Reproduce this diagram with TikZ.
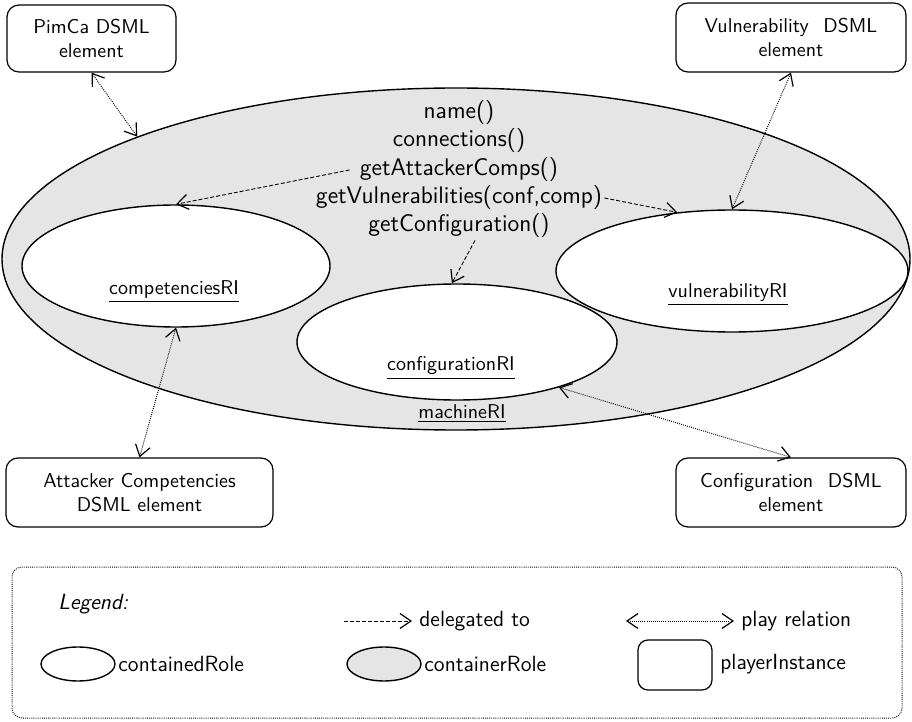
\documentclass[tikz,border=0pt]{standalone}
\usetikzlibrary{shapes.geometric,arrows.meta,calc}
\definecolor{rolegray}{gray}{0.9}
\begin{document}
\begin{tikzpicture}[x=0.5pt,y=-0.5pt, font=\sffamily,
  contained/.style={ellipse, draw, fill=white, line width=0.7pt, inner sep=0pt},
  container/.style={ellipse, draw, fill=rolegray, line width=0.7pt, inner sep=0pt},
  player/.style={draw, rounded corners=6pt, line width=0.6pt, align=center, inner sep=0pt, font=\sffamily\normalsize},
  barb/.tip={Straight Barb[length=5.5pt,width=7.5pt,line width=0.6pt]},
  deleg/.style={dash pattern=on 2pt off 1pt, line width=0.45pt, -barb},
  play/.style={dash pattern=on 0.45pt off 0.6pt, line width=0.5pt, barb-barb},
  meth/.style={font=\sffamily\large, inner sep=1pt},
  rlabel/.style={font=\sffamily\normalsize, inner sep=1pt},
  legtext/.style={font=\sffamily\fontsize{11}{13}\selectfont, anchor=west, inner sep=0pt}
]
\useasboundingbox (0,0) rectangle (912,722);

% roles
\node[container, minimum width=454pt, minimum height=171pt] (machine) at (456,259) {};
\node[contained, minimum width=154pt, minimum height=61pt] (compRI) at (176,266) {};
\node[contained, minimum width=176pt, minimum height=61pt] (vulnRI) at (732,271) {};
\node[contained, minimum width=160pt, minimum height=58pt] (confRI) at (457,342) {};

\node[rlabel] (compL) at (174,292) {\underline{competenciesRI}};
\node[rlabel] (vulnL) at (728,295) {\underline{vulnerabilityRI}};
\node[rlabel] (confL) at (451,368) {\underline{configurationRI}};
\node[rlabel] (machL) at (462,414) {\underline{machineRI}};

% methods
\node[meth] (m1) at (459,113) {name()};
\node[meth] (m2) at (459,141) {connections()};
\node[meth] (m3) at (459,170) {getAttackerComps()};
\node[meth] (m4) at (459,198) {getVulnerabilities(conf,comp)};
\node[meth] (m5) at (459,226) {getConfiguration()};

% players
\node[player, minimum width=84.5pt, minimum height=33.5pt] (pimca) at (91.5,38.5) {PimCa DSML\\element};
\node[player, minimum width=115pt, minimum height=34.5pt] (vuln) at (791,37.5) {Vulnerability\hspace{0.4em} DSML\\element};
\node[player, minimum width=133.5pt, minimum height=34.5pt] (attacker) at (139.5,492.5) {Attacker Competencies\\DSML element};
\node[player, minimum width=115pt, minimum height=34.5pt] (config) at (791,492.5) {Configuration\hspace{0.4em} DSML\\element};

% play relations
\draw[play] (pimca.south) -- (machine.159);
\draw[play] (vuln.south) -- (vulnRI.north);
\draw[play] (compRI.south) -- (attacker.north);
\draw[play] (confRI.-24) -- (config.north);

% delegations
\draw[deleg] ($(m3.west)+(-8,0)$) -- (compRI.north);
\draw[deleg] (m4.east) -- (vulnRI.133);
\draw[deleg] ($(m5.south)+(16,0)$) -- (confRI.95);

% legend
\node[draw, dash pattern=on 0.45pt off 0.6pt, line width=0.5pt, rounded corners=5pt, minimum width=445pt, minimum height=75.5pt, inner sep=0pt] (legend) at (457,642.5) {};
\node[legtext] (legT) at (58,604) {\textit{Legend:}};
\coordinate (d1) at (344,621);
\coordinate (d2) at (412,621);
\draw[deleg] (d1) -- (d2);
\node[legtext] (dT) at (419,621) {delegated to};
\coordinate (p1) at (626,621);
\coordinate (p2) at (734,621);
\draw[play] (p1) -- (p2);
\node[legtext] (pT) at (741,621) {play relation};

\node[contained, minimum width=37pt, minimum height=17pt] (le1) at (78,664) {};
\node[legtext] (le1T) at (118,664) {containedRole};
\node[container, minimum width=37pt, minimum height=17pt] (le2) at (384,664) {};
\node[legtext] (le2T) at (424,664) {containerRole};
\node[draw, rounded corners=5pt, line width=0.6pt, minimum width=37pt, minimum height=25pt, inner sep=0pt] (le3) at (675,665) {};
\node[legtext] (le3T) at (720,664) {playerInstance};
\end{tikzpicture}
\end{document}
